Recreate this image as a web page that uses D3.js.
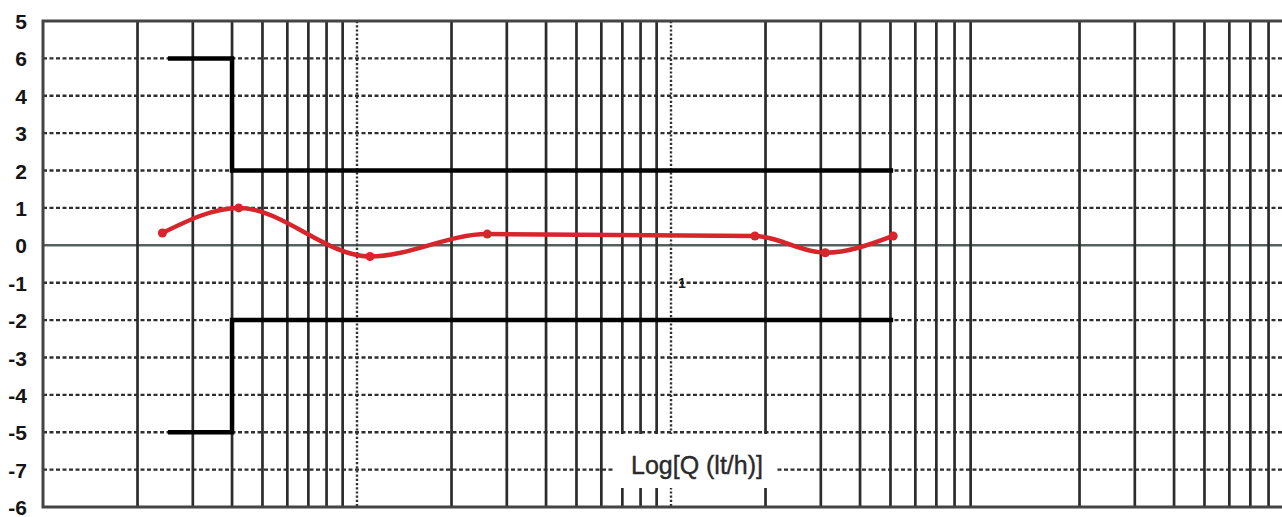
<!DOCTYPE html>
<html>
<head>
<meta charset="utf-8">
<script src="https://cdn.jsdelivr.net/npm/d3@7"></script>
<style>
  html, body { margin: 0; padding: 0; background: #fff; }
  svg { display: block; }
</style>
</head>
<body>
<svg id="chart" width="1282" height="517"></svg>
<script>
// Error curve of a flow meter: relative error (%) against flow rate Q (lt/h), log axis.

// y-axis tick positions and the labels printed beside them
const yTicks = [6, 5, 4, 3, 2, 1, 0, -1, -2, -3, -4, -5, -6, -7];
const yTickLabels = ["5", "6", "4", "3", "2", "1", "0", "-1", "-2", "-3", "-4", "-5", "-7", "-6"];

// vertical grid lines of the log paper (Q, lt/h)
const gridQSolid = [
  0.02, 0.03, 0.04, 0.05, 0.06, 0.07, 0.08, 0.09,
  0.2, 0.3, 0.4, 0.5, 0.6, 0.7, 0.8, 0.9,
  2, 3, 4, 5, 6, 7, 8, 9,
  20, 30, 40, 50, 60, 70, 80
];
const gridQDotted = [0.1, 1];
const xTickLabels = [{ q: 1, label: "1" }];

// maximum permissible error envelope
const upperLimitQ = [0.025, 0.04, 0.04, 5.1];
const upperLimitE = [5, 5, 2, 2];
const lowerLimitQ = [0.025, 0.04, 0.04, 5.1];
const lowerLimitE = [-5, -5, -2, -2];

// measured error points
const measuredQ = [0.024, 0.042, 0.11, 0.26, 1.85, 3.1, 5.1];
const measuredE = [0.33, 1.0, -0.3, 0.3, 0.25, -0.2, 0.25];

const axisTitle = "Log[Q (lt/h)]";

const svg = d3.select("#chart");
const plotLeft = 43, plotTop = 21, plotBottom = 507;
const pxPerDecade = 314;

const x = d3.scaleLog()
  .domain([0.01, 90])
  .range([plotLeft, plotLeft + pxPerDecade * Math.log10(90 / 0.01)]);
const y = d3.scaleLinear().domain([-7, 6]).range([plotBottom, plotTop]);

const xMax = x.range()[1];

// horizontal dashed grid lines
svg.append("g")
  .selectAll("line")
  .data(yTicks.filter(v => v !== 0 && v !== 6 && v !== -7))
  .join("line")
  .attr("x1", plotLeft).attr("x2", xMax)
  .attr("y1", d => y(d)).attr("y2", d => y(d))
  .attr("stroke", "#2e2e2e")
  .attr("stroke-width", 2.4)
  .attr("stroke-dasharray", "4 2.5");

// zero line
svg.append("line")
  .attr("x1", plotLeft).attr("x2", xMax)
  .attr("y1", y(0)).attr("y2", y(0))
  .attr("stroke", "#55605e")
  .attr("stroke-width", 2.6);

// vertical solid grid lines
svg.append("g")
  .selectAll("line")
  .data(gridQSolid)
  .join("line")
  .attr("x1", d => x(d)).attr("x2", d => x(d))
  .attr("y1", plotTop).attr("y2", plotBottom)
  .attr("stroke", "#2c2c2c")
  .attr("stroke-width", 2.7);

// decade lines, dotted
svg.append("g")
  .selectAll("line")
  .data(gridQDotted)
  .join("line")
  .attr("x1", d => x(d)).attr("x2", d => x(d))
  .attr("y1", plotTop).attr("y2", plotBottom)
  .attr("stroke", "#333")
  .attr("stroke-width", 2.4)
  .attr("stroke-dasharray", "2.2 2");

// frame: top, bottom, left
svg.append("path")
  .attr("d", `M${xMax + 10},${plotTop} H${plotLeft} V${plotBottom} H${xMax + 10}`)
  .attr("fill", "none")
  .attr("stroke", "#444")
  .attr("stroke-width", 3);

// axis title box
const titleG = svg.append("g");
titleG.append("rect")
  .attr("x", 615).attr("y", 434)
  .attr("width", 160).attr("height", 54)
  .attr("fill", "#fff");
titleG.append("text")
  .attr("x", 697).attr("y", 474)
  .attr("text-anchor", "middle")
  .attr("font-family", "Liberation Sans Narrow, Liberation Sans, Arial, sans-serif")
  .attr("font-size", 25)
  .attr("fill", "#2a2a2a")
  .attr("stroke", "#2a2a2a")
  .attr("stroke-width", 0.4)
  .text(axisTitle);

// y-axis labels
const yAxis = d3.axisLeft(y)
  .tickValues(yTicks)
  .tickSize(0)
  .tickPadding(0)
  .tickFormat((d, i) => yTickLabels[i]);
const yAxisG = svg.append("g")
  .attr("transform", "translate(27,0)")
  .call(yAxis);
yAxisG.select(".domain").remove();
yAxisG.selectAll("text")
  .attr("font-family", "Liberation Sans Narrow, Liberation Sans, Arial, sans-serif")
  .attr("font-size", 21)
  .attr("font-weight", "bold")
  .attr("fill", "#151515")
  .attr("dy", "0.36em");

// x tick label
svg.append("g")
  .selectAll("text")
  .data(xTickLabels)
  .join("text")
  .attr("x", d => x(d.q) + 11)
  .attr("y", y(-1) + 5)
  .attr("text-anchor", "middle")
  .attr("font-family", "Liberation Sans, Arial, sans-serif")
  .attr("font-size", 14)
  .attr("font-weight", "bold")
  .attr("fill", "#1a1a1a")
  .text(d => d.label);

// error limit envelope
const stepLine = d3.line()
  .x(d => x(d[0]))
  .y(d => y(d[1]));
[[upperLimitQ, upperLimitE], [lowerLimitQ, lowerLimitE]].forEach(([qs, es]) => {
  svg.append("path")
    .datum(d3.zip(qs, es))
    .attr("d", stepLine)
    .attr("fill", "none")
    .attr("stroke", "#000")
    .attr("stroke-width", 4.5)
    .attr("stroke-linejoin", "miter");
});

// measured error curve
const measured = d3.zip(measuredQ, measuredE);
svg.append("path")
  .datum(measured)
  .attr("d", d3.line()
    .x(d => x(d[0]))
    .y(d => y(d[1]))
    .curve(d3.curveMonotoneX))
  .attr("fill", "none")
  .attr("stroke", "#d8242b")
  .attr("stroke-width", 4.5)
  .attr("stroke-linecap", "round");

svg.append("g")
  .selectAll("circle")
  .data(measured)
  .join("circle")
  .attr("cx", d => x(d[0]))
  .attr("cy", d => y(d[1]))
  .attr("r", 4.5)
  .attr("fill", "#d8242b");
</script>
</body>
</html>
